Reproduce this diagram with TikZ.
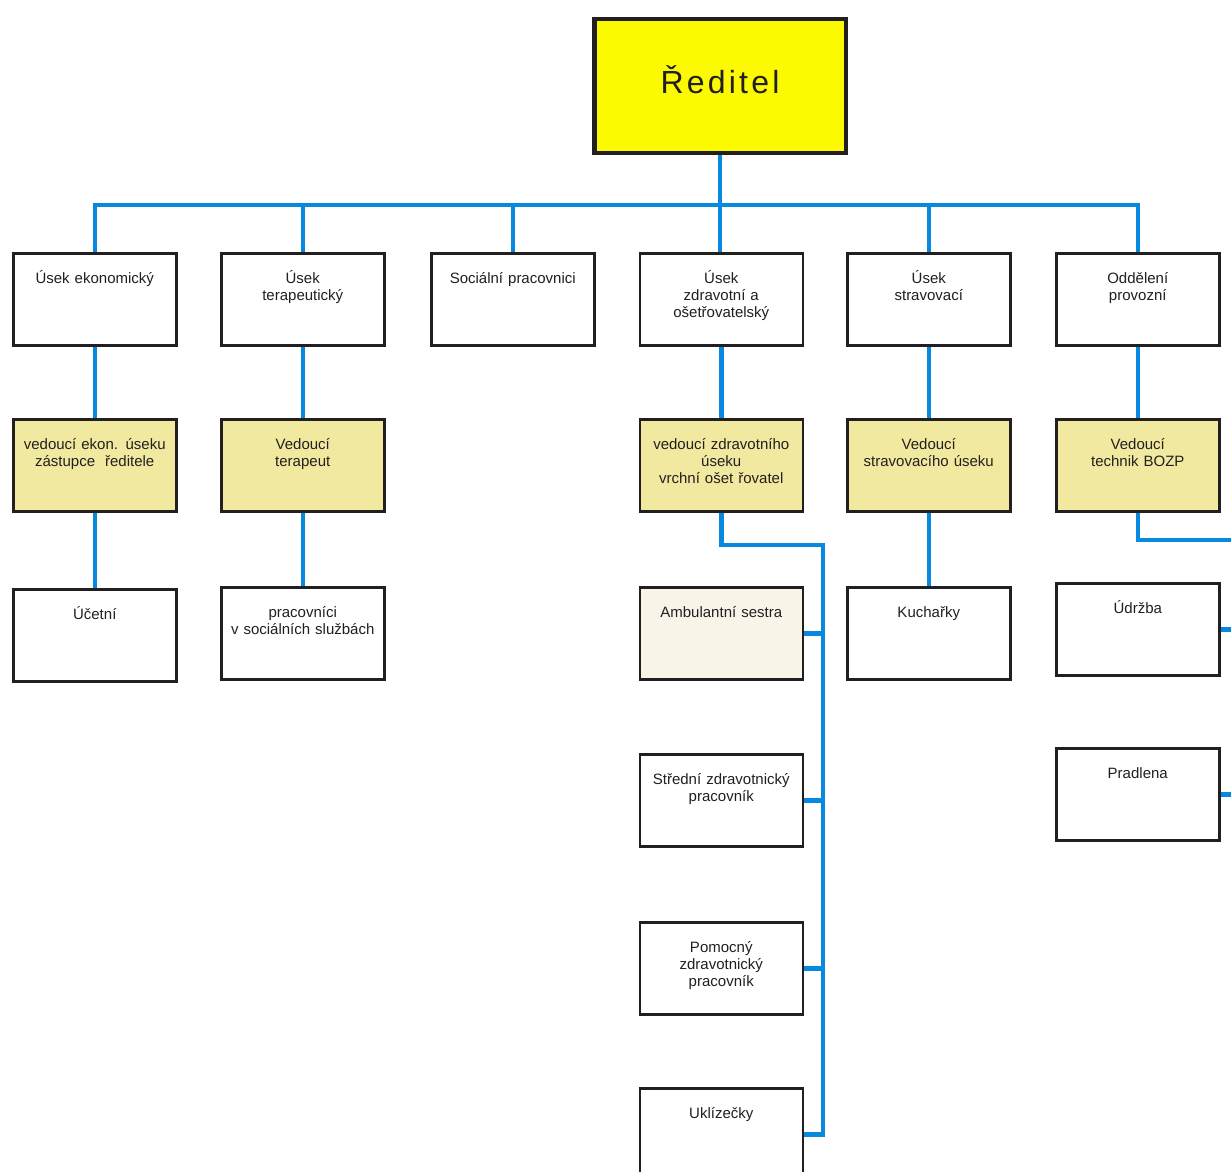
\documentclass[tikz,border=0pt]{standalone}
\usepackage{fontspec}
\setmainfont{Liberation Sans}
\newfontfamily\headfont[LetterSpace=10]{Liberation Sans}
\usepackage{tikz}
\usetikzlibrary{backgrounds}
\definecolor{linkblue}{RGB}{8,137,224}
\definecolor{headyellow}{RGB}{252,250,0}
\definecolor{leadfill}{RGB}{242,233,160}
\definecolor{nursefill}{RGB}{248,245,232}
\definecolor{boxline}{RGB}{35,31,32}

\begin{document}
\begin{tikzpicture}[x=1pt, y=-1pt,
        unit/.style={draw=boxline, line width=2.5pt, fill=white, anchor=north west,
            text width=155pt, inner xsep=4pt, inner ysep=0pt,
            text height=30pt, text depth=62pt, align=center, text=boxline,
            font=\fontsize{15}{17}\selectfont},
        lead/.style={unit, fill=leadfill},
        link/.style={draw=linkblue, line width=4.5pt}]
                \useasboundingbox (0,0) rectangle (1231,1172);
                \clip (0,0) rectangle (1231,1172);

                \node[draw=boxline, line width=4.5pt, fill=headyellow, inner sep=0pt,
                    minimum width=251.5pt, minimum height=133.5pt,
                    text height=24pt, text depth=10pt, text=boxline,
                    font=\headfont\fontsize{32}{38}\selectfont] (R) at (720,86) {Ředitel};

                \node[unit] (U1) at (12,252) {Úsek ekonomický};
                \node[unit] (U2) at (220,252) {Úsek\\terapeutický};
                \node[unit] (U3) at (430,252) {Sociální pracovnici};
                \node[unit] (U4) at (638.5,252) {Úsek\\zdravotní a\\ošetřovatelský};
                \node[unit] (U5) at (846,252) {Úsek\\stravovací};
                \node[unit] (U6) at (1055,252) {Oddělení\\provozní};

                \node[lead] (V1) at (12,418) {vedoucí ekon. úseku\\zástupce \ ředitele};
                \node[lead] (V2) at (220,418) {Vedoucí\\terapeut};
                \node[lead] (V4) at (638.5,418) {vedoucí zdravotního\\úseku\\vrchní ošet řovatel};
                \node[lead] (V5) at (846,418) {Vedoucí\\stravovacího úseku};
                \node[lead] (V6) at (1055,418) {Vedoucí\\technik BOZP};

                \node[unit] (P1) at (12,588) {Účetní};
                \node[unit] (P2) at (220,586) {pracovníci\\v sociálních službách};
                \node[unit, fill=nursefill] (Z1) at (638.5,586) {Ambulantní sestra};
                \node[unit] (Z2) at (638.5,753) {Střední zdravotnický\\pracovník};
                \node[unit] (Z3) at (638.5,921) {Pomocný\\zdravotnický\\pracovník};
                \node[unit] (Z4) at (638.5,1087) {Uklízečky};
                \node[unit] (K) at (846,586) {Kuchařky};
                \node[unit] (O1) at (1055,582) {Údržba};
                \node[unit] (O2) at (1055,747) {Pradlena};

                \coordinate (bus) at (720,205);
                \coordinate (trunk) at (823,545);
                \coordinate (edge) at (1240,540);

                \begin{scope}[on background layer]
                \draw[link] (R.south) -- (R.south |- U4.north);
                \draw[link] (U1.north) -- (U1.north |- bus) -- (U6.north |- bus) -- (U6.north);
                \foreach \n in {U2,U3,U5}
                    \draw[link] (\n.north) -- (\n.north |- bus);
                \foreach \a/\b in {U1/V1,U2/V2,U4/V4,U5/V5,U6/V6,V1/P1,V2/P2,V5/K}
                    \draw[link] (\a) -- (\b);
                \draw[link] (V4.south) -- (V4.south |- trunk) -- (trunk) -- (trunk |- Z4.east) -- (Z4.east);
                \foreach \n in {Z1,Z2,Z3}
                    \draw[link] (\n.east) -- (\n.east -| trunk);
                \draw[link] (V6.south) |- (edge);
                \foreach \n in {O1,O2}
                    \draw[link] (\n.east) -- (\n.east -| edge);
                \end{scope}
            \end{tikzpicture}
\end{document}
